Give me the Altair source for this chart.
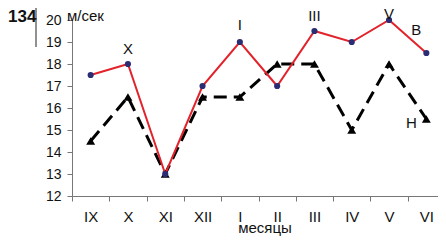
import altair as alt
import pandas as pd

months = ["IX", "X", "XI", "XII", "I", "II", "III", "IV", "V", "VI"]
upper = [17.5, 18, 13, 17, 19, 17, 19.5, 19, 20, 18.5]
lower = [14.5, 16.5, 13, 16.5, 16.5, 18, 18, 15, 18, 15.5]

ann_text = ["X", "I", "III", "V"]
ann_month = ["X", "I", "III", "V"]
ann_y = [18.45, 19.55, 19.95, 20.06]

side_text = ["В", "Н"]
side_month = ["VI", "VI"]
side_y = [19.3, 15.1]
side_dx = [-10, -15]

df = pd.DataFrame({"month": months, "upper": upper, "lower": lower})
ann = pd.DataFrame({"t": ann_text, "month": ann_month, "y": ann_y})

FONT = "Liberation Sans"

xenc = alt.X(
    "month:N",
    sort=months,
    bandPosition=0.5,
    scale=alt.Scale(type="band", paddingInner=0, paddingOuter=0, domain=months),
    axis=alt.Axis(
        title=None, tickBand="extent", labelAngle=0, labelFontSize=15,
        labelFont=FONT, labelColor="#111", tickSize=5, labelPadding=8,
        domainColor="#777", tickColor="#777", grid=False,
    ),
)
yscale = alt.Scale(domain=[12, 20], nice=False, zero=False)
yaxis = alt.Axis(
    title=None, values=list(range(12, 21)), labelFontSize=14, labelFont=FONT,
    labelColor="#111", tickSize=5, labelPadding=6, domainColor="#777",
    tickColor="#777", grid=False, labelOverlap=False,
)

base = alt.Chart(df)

dashed = base.mark_line(color="black", strokeWidth=3, strokeDash=[13, 7]).encode(
    x=xenc, y=alt.Y("lower:Q", scale=yscale, axis=yaxis)
)
red = base.mark_line(color="#e3232c", strokeWidth=2).encode(
    x=xenc, y=alt.Y("upper:Q", scale=yscale, axis=yaxis)
)
tri = base.mark_point(shape="triangle-up", filled=True, color="black", size=80, opacity=1).encode(
    x=xenc, y=alt.Y("lower:Q", scale=yscale, axis=yaxis)
)
dots = base.mark_circle(color="#2b2d74", size=38, opacity=1).encode(
    x=xenc, y=alt.Y("upper:Q", scale=yscale, axis=yaxis)
)
labels = alt.Chart(ann).mark_text(fontSize=15, font=FONT, color="#111", baseline="alphabetic").encode(
    x=xenc, y=alt.Y("y:Q", scale=yscale, axis=yaxis), text="t:N"
)

side_layers = []
for t, m, yv, dx in zip(side_text, side_month, side_y, side_dx):
    d = pd.DataFrame({"t": [t], "month": [m], "y": [yv]})
    side_layers.append(
        alt.Chart(d).mark_text(fontSize=15, font=FONT, color="#111", baseline="alphabetic", dx=dx).encode(
            x=xenc, y=alt.Y("y:Q", scale=yscale, axis=yaxis), text="t:N"
        )
    )

num = alt.Chart(pd.DataFrame({"t": ["134"]})).mark_text(
    fontSize=17, fontWeight="bold", font=FONT, color="#111", align="left", baseline="top"
).encode(x=alt.value(-64), y=alt.value(-11), text="t:N")

vline = alt.Chart(pd.DataFrame({"a": [0]})).mark_rule(color="#222", strokeWidth=1).encode(
    x=alt.value(-36), y=alt.value(-12), y2=alt.value(27)
)

unit = alt.Chart(pd.DataFrame({"t": ["м/сек"]})).mark_text(
    fontSize=15, font=FONT, color="#111", align="left", baseline="top"
).encode(x=alt.value(-5), y=alt.value(-11), text="t:N")

xtitle = alt.Chart(pd.DataFrame({"t": ["месяцы"]})).mark_text(
    fontSize=15, font=FONT, color="#111", align="center", baseline="alphabetic"
).encode(x=alt.value(193), y=alt.value(213), text="t:N")

chart = alt.layer(
    dashed, red, tri, dots, labels, *side_layers, num, vline, unit, xtitle
).properties(
    width=373, height=176,
    autosize=alt.AutoSizeParams(type="none"),
    padding={"left": 64, "top": 12, "right": -7, "bottom": 40},
).configure_view(stroke=None)

chart.save("out.html", embed_options={"renderer": "svg", "actions": False})
